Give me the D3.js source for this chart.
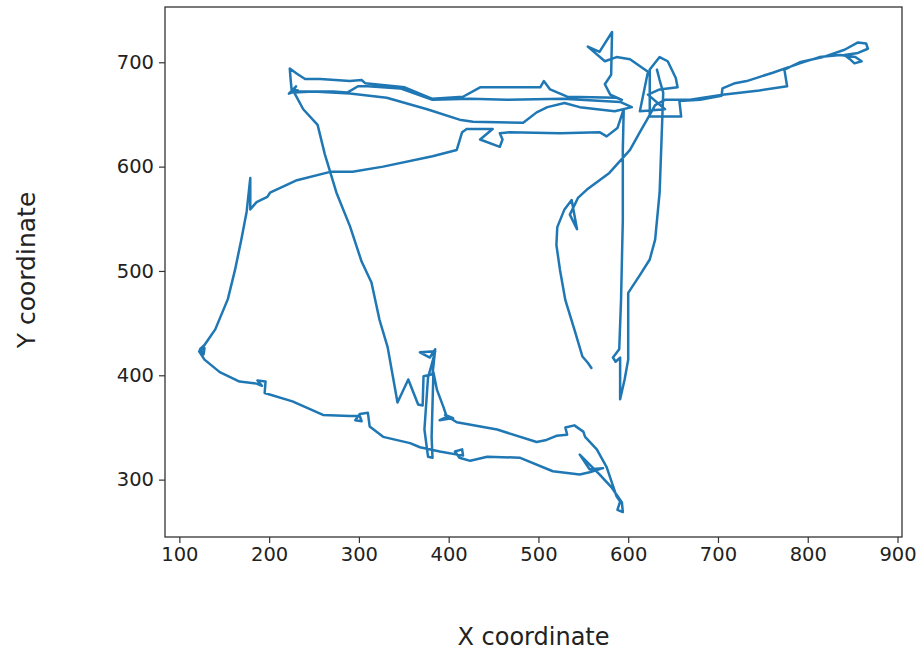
<!DOCTYPE html>
<html lang="en">
<head>
<meta charset="UTF-8"/>
<title>Trajectory</title>
<script src="https://d3js.org/d3.v7.min.js"></script>
<style>
  body { margin: 0; background: #fff; }
  svg text { font-family: "DejaVu Sans", sans-serif; fill: #222; }
</style>
</head>
<body>
<script>
    // Tracked positions, in order
    var trackX = [559, 555, 549, 540, 530, 524, 520, 521, 529, 537, 543, 535, 544, 554, 579, 602, 613, 621, 630, 641,
        669, 705, 746, 777, 774, 791, 817, 841, 856, 865, 867, 856, 841, 847, 852, 860, 853, 836, 813, 791,
        761, 732, 719, 705, 704, 680, 657, 659, 624, 624, 635, 644, 653, 655, 635, 622, 641, 613, 622, 602,
        587, 574, 555, 568, 582, 581, 574, 580, 593, 587, 532, 513, 506, 502, 435, 416, 382, 351, 307, 303,
        290, 257, 240, 231, 223, 224, 225, 232, 222, 230, 226, 271, 287, 299, 310, 346, 382, 424, 465, 527,
        591, 604, 585, 546, 529, 510, 498, 483, 427, 412, 376, 331, 290, 249, 228, 238, 254, 262, 275, 290,
        303, 314, 323, 332, 337, 343, 355, 366, 371, 372, 382, 385, 379, 368, 385, 381, 377, 373, 377, 382,
        381, 383, 387, 394, 398, 390, 405, 396, 409, 454, 498, 509, 520, 532, 530, 540, 550, 552, 565, 576,
        587, 591, 588, 594, 593, 582, 568, 546, 557, 572, 557, 546, 516, 479, 443, 424, 412, 407, 415, 416,
        390, 368, 357, 327, 312, 310, 301, 296, 303, 301, 290, 260, 226, 195, 196, 187, 192, 186, 167, 145,
        128, 122, 128, 127, 123, 128, 140, 154, 162, 169, 175, 179, 179, 186, 198, 201, 231, 268, 293, 327,
        382, 409, 415, 420, 449, 435, 457, 460, 457, 468, 524, 568, 576, 588, 595, 594, 594, 592, 590, 583,
        586, 591, 591, 596, 600, 600, 613, 624, 630, 635, 639, 635, 632];
    var trackY = [407, 412, 418, 444, 472, 501, 525, 542, 559, 568, 540, 554, 570, 578, 594, 616, 633, 645, 659, 664,
        664, 669, 673, 677, 693, 700, 705, 712, 719, 718, 713, 709, 707, 703, 699, 701, 705, 707, 705, 699,
        690, 682, 680, 675, 668, 664, 663, 648, 648, 693, 705, 701, 685, 676, 674, 669, 655, 653, 691, 703,
        705, 701, 715, 710, 729, 688, 679, 669, 664, 666, 667, 674, 682, 676, 676, 667, 665, 676, 680, 683,
        682, 684, 684, 689, 694, 683, 674, 673, 670, 677, 672, 672, 671, 677, 677, 675, 664, 665, 664, 665,
        662, 657, 653, 657, 661, 657, 652, 642, 643, 645, 655, 666, 670, 672, 671, 655, 640, 612, 575, 543,
        509, 489, 453, 427, 403, 374, 396, 372, 371, 399, 401, 425, 417, 422, 423, 410, 398, 348, 322, 321,
        341, 403, 386, 370, 360, 357, 359, 362, 355, 348, 336, 338, 342, 343, 350, 352, 346, 341, 329, 312,
        284, 279, 271, 269, 278, 292, 305, 324, 310, 311, 307, 305, 308, 321, 322, 318, 321, 327, 329, 323,
        327, 331, 335, 341, 351, 364, 363, 357, 356, 361, 361, 362, 375, 383, 394, 395, 390, 392, 394, 403,
        415, 423, 426, 420, 425, 429, 444, 473, 501, 530, 557, 589, 559, 566, 571, 575, 587, 595, 595, 600,
        610, 616, 633, 636, 636, 626, 619, 626, 632, 633, 632, 633, 629, 637, 655, 616, 549, 472, 425, 417,
        413, 417, 377, 396, 415, 479, 496, 511, 530, 575, 671, 683, 693];

    var xTicks = [100, 200, 300, 400, 500, 600, 700, 800, 900];
    var yTicks = [300, 400, 500, 600, 700];

    var xLabel = "X coordinate";
    var yLabel = "Y coordinate";

    // Page and plot frame
    var w = 922;
    var h = 652;
    var margin = { left: 165, right: 20, top: 7, bottom: 115 };

    var points = trackX.map(function (x, i) { return [x, trackY[i]]; });

    var xScale = d3.scaleLinear()
        .domain([84, 905])
        .range([margin.left, w - margin.right]);

    var yScale = d3.scaleLinear()
        .domain([245, 753])
        .range([h - margin.bottom, margin.top]);

    var svg = d3.select("body")
        .append("svg")
        .attr("width", w)
        .attr("height", h);

    // Trajectory
    var line = d3.line()
        .x(d => xScale(d[0]))
        .y(d => yScale(d[1]));

    svg.append("path")
        .datum(points)
        .attr("d", line)
        .attr("fill", "none")
        .attr("stroke", "#1f77b4")
        .attr("stroke-width", 2.5)
        .attr("stroke-linejoin", "round")
        .attr("stroke-linecap", "round");

    // Frame
    svg.append("rect")
        .attr("x", margin.left)
        .attr("y", margin.top)
        .attr("width", w - margin.right - margin.left)
        .attr("height", h - margin.bottom - margin.top)
        .attr("fill", "none")
        .attr("stroke", "#333")
        .attr("stroke-width", 1.3);

    // Axes
    var xAxis = d3.axisBottom(xScale)
        .tickValues(xTicks)
        .tickSize(6)
        .tickSizeOuter(0)
        .tickPadding(4);

    var yAxis = d3.axisLeft(yScale)
        .tickValues(yTicks)
        .tickSize(6)
        .tickSizeOuter(0)
        .tickPadding(5);

    var gx = svg.append("g")
        .attr("transform", `translate(0,${h - margin.bottom})`)
        .call(xAxis);

    var gy = svg.append("g")
        .attr("transform", `translate(${margin.left},0)`)
        .call(yAxis);

    [gx, gy].forEach(function (g) {
        g.select(".domain").remove();
        g.selectAll(".tick line").attr("stroke", "#333").attr("stroke-width", 1.2);
        g.selectAll(".tick text")
            .attr("font-size", 19.5)
            .attr("font-family", "DejaVu Sans, sans-serif")
            .attr("fill", "#222");
    });

    // Axis titles
    svg.append("text")
        .attr("x", (margin.left + w - margin.right) / 2)
        .attr("y", 645)
        .attr("text-anchor", "middle")
        .attr("font-size", 24)
        .text(xLabel);

    svg.append("text")
        .attr("transform", `translate(35,270) rotate(-90)`)
        .attr("text-anchor", "middle")
        .attr("font-size", 25)
        .text(yLabel);
</script>
</body>
</html>
